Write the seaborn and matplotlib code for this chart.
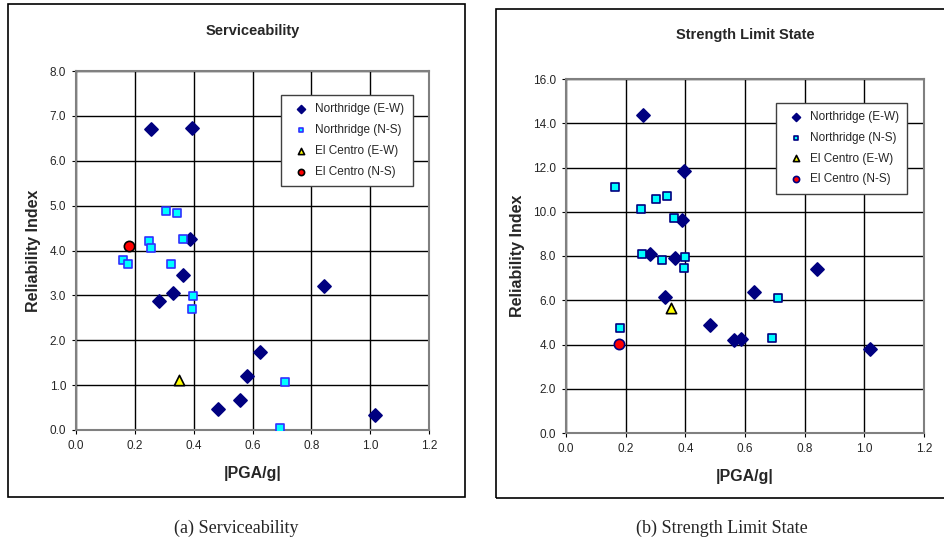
import pandas as pd
import seaborn as sns
import matplotlib.pyplot as plt
from matplotlib.patches import Rectangle

# Serviceability: PGA/g and reliability index
serv_pga_ew = [0.255, 0.394, 0.389, 0.365, 0.331, 0.283, 0.843, 0.627, 0.582, 0.559, 0.482, 1.017]
serv_ew = [6.70, 6.73, 4.25, 3.45, 3.05, 2.88, 3.22, 1.73, 1.20, 0.67, 0.47, 0.33]
serv_pga_ns = [0.305, 0.344, 0.249, 0.255, 0.365, 0.161, 0.177, 0.323, 0.399, 0.394, 0.710, 0.694]
serv_ns = [4.88, 4.84, 4.22, 4.05, 4.25, 3.79, 3.71, 3.71, 2.99, 2.69, 1.07, 0.04]
serv_pga_elc_ew = [0.350]
serv_elc_ew = [1.11]
serv_pga_elc_ns = [0.181]
serv_elc_ns = [4.09]

# Strength limit state: PGA/g and reliability index
str_pga_ew = [0.257, 0.394, 0.389, 0.280, 0.366, 0.333, 0.842, 0.630, 0.482, 0.564, 0.586, 1.018]
str_ew = [14.38, 11.84, 9.62, 8.10, 7.89, 6.16, 7.42, 6.36, 4.88, 4.20, 4.26, 3.81]
str_pga_ns = [0.164, 0.251, 0.301, 0.339, 0.361, 0.256, 0.323, 0.399, 0.394, 0.711, 0.690, 0.180]
str_ns = [11.10, 10.11, 10.57, 10.69, 9.70, 8.09, 7.83, 7.97, 7.48, 6.08, 4.28, 4.74]
str_pga_elc_ew = [0.351]
str_elc_ew = [5.66]
str_pga_elc_ns = [0.179]
str_elc_ns = [4.02]

series_names = ['Northridge (E-W)', 'Northridge (N-S)', 'El Centro (E-W)', 'El Centro (N-S)']

sns.set_style('white')
plt.rcParams['font.family'] = ['Liberation Sans', 'DejaVu Sans']

W, H = 945, 545
fig = plt.figure(figsize=(W / 100, H / 100), dpi=100)


def px_axes(x0, y0, x1, y1):
    return fig.add_axes([x0 / W, 1 - y1 / H, (x1 - x0) / W, (y1 - y0) / H])


def draw_panel(ax, xs, ys, title, ymax, ystep, sq_edge, circ_edge, title_pad):
    styles = [
        dict(marker='D', s=45, color='#000080', edgecolor='#000080'),
        dict(marker='s', s=30, color='#00FFFF', edgecolor=sq_edge),
        dict(marker='^', s=55, color='#FFFF00', edgecolor='black'),
        dict(marker='o', s=55, color='#FF0000', edgecolor=circ_edge),
    ]
    for x, y, name, st in zip(xs, ys, series_names, styles):
        df = pd.DataFrame({'pga': x, 'beta': y})
        sns.scatterplot(data=df, x='pga', y='beta', ax=ax, label=name,
                        linewidth=1.2, zorder=3, **st)
    ax.set_xlim(0, 1.2)
    ax.set_ylim(0, ymax)
    ax.set_xticks([i * 0.2 for i in range(7)])
    ax.set_yticks([i * ystep for i in range(int(ymax / ystep) + 1)])
    ax.xaxis.set_major_formatter(plt.FormatStrFormatter('%.1f'))
    ax.yaxis.set_major_formatter(plt.FormatStrFormatter('%.1f'))
    ax.grid(True, color='black', linewidth=1.0)
    ax.set_axisbelow(True)
    for s in ax.spines.values():
        s.set_color('#808080')
        s.set_linewidth(1.5)
    ax.tick_params(axis='both', labelsize=8.5, length=3, color='black',
                   direction='out', bottom=True, left=True, pad=4)
    ax.set_xlabel('|PGA/g|', fontsize=11.5, fontweight='bold', labelpad=10)
    ax.set_ylabel('Reliability Index', fontsize=11.5, fontweight='bold', labelpad=6)
    ax.set_title(title, fontsize=10.5, fontweight='bold', pad=title_pad)
    leg = ax.legend(loc='upper right', bbox_to_anchor=(0.97, 0.95), fontsize=8.5,
                    fancybox=False, framealpha=1, edgecolor='#404040',
                    markerscale=0.6, handletextpad=0.2, labelspacing=0.75,
                    borderpad=0.7)
    leg.get_frame().set_linewidth(1.0)


ax1 = px_axes(76, 71, 429, 430)
draw_panel(ax1, [serv_pga_ew, serv_pga_ns, serv_pga_elc_ew, serv_pga_elc_ns],
           [serv_ew, serv_ns, serv_elc_ew, serv_elc_ns],
           'Serviceability', 8.0, 1.0, '#3030FF', 'black', 26)

ax2 = px_axes(566, 79, 924, 433)
draw_panel(ax2, [str_pga_ew, str_pga_ns, str_pga_elc_ew, str_pga_elc_ns],
           [str_ew, str_ns, str_elc_ew, str_elc_ns],
           'Strength Limit State', 16.0, 2.0, '#000080', '#000080', 29)

# outer chart frames
fig.patches.append(Rectangle((8 / W, 1 - 497 / H), (465 - 8) / W, (497 - 4) / H,
                             transform=fig.transFigure, fill=False,
                             edgecolor='black', linewidth=1.2))
fig.patches.append(Rectangle((496 / W, 1 - 498 / H), (948 - 496) / W, (498 - 9) / H,
                             transform=fig.transFigure, fill=False,
                             edgecolor='black', linewidth=1.2))

fig.text(236 / W, 1 - 528 / H, '(a) Serviceability', ha='center', va='center',
         fontsize=13, family=['Liberation Serif'])
fig.text(722 / W, 1 - 528 / H, '(b) Strength Limit State', ha='center', va='center',
         fontsize=13, family=['Liberation Serif'])

plt.savefig('out.png', dpi=100)
